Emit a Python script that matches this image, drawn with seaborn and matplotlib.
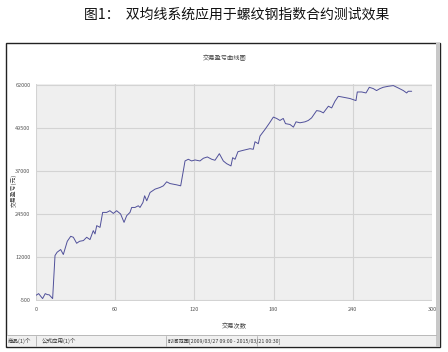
import matplotlib
matplotlib.use("Agg")
import matplotlib.pyplot as plt
import seaborn as sns
import pandas as pd
from matplotlib.patches import Rectangle
from matplotlib.lines import Line2D

sns.set_theme(style="whitegrid")
plt.rcParams['font.family'] = ['Noto Sans CJK SC', 'DejaVu Sans']

fig_title = "图1：  双均线系统应用于螺纹钢指数合约测试效果"
chart_title = "交易盈亏曲线图"
x_label = "交易次数"
y_label = "交易盈亏(元)"
status_texts = ["商品(1)个", "公式应用(1)个", "时间范围[2009/03/27 09:00 - 2015/03/21 00:30]"]

x_ticks = [0, 60, 120, 180, 240, 300]
y_ticks = [-500, 12000, 24500, 37000, 49500, 62000]

trade_no = [0, 2, 5, 7, 8.6, 10, 12.6, 14.4, 16, 18.7, 20.7, 23.7, 26.3, 28.3, 30.8, 33,
            35.9, 38.4, 40.9, 43.4, 44.7, 46, 48.5, 50.5, 53.5, 56, 58.6, 61.1, 64.1, 66.7,
            68.7, 71.2, 72.5, 75, 77.5, 78.8, 81, 82.3, 83.9, 86.4, 90.2, 93.9, 96.5, 99,
            101.5, 106.6, 109.6, 111.6, 112.9, 115.4, 117.9, 120.5, 124.2, 126.8, 129.8,
            133.1, 135.6, 138.9, 141.9, 144.4, 147.7, 149, 150.8, 153, 157, 162.1, 164.6,
            165.9, 168.4, 169.7, 173.5, 177, 179.8, 182.3, 184.8, 187.3, 189, 192.4, 195,
            197, 200, 203.8, 206.3, 208.8, 212.6, 215.2, 217.7, 221.5, 224, 226.5, 229,
            232.8, 237.9, 242.4, 243.4, 246.7, 250, 252.5, 255.5, 258, 260.6, 263.1, 266.9,
            270.7, 274.5, 278.3, 280.8, 282, 284.6]
pnl = [950, 1440, 0, 1440, 1150, 1100, 0, 12500, 13460, 14240, 12800, 16640, 18080, 17800,
       16060, 16640, 16840, 17800, 17130, 19730, 18770, 21175, 20680, 25020, 25020, 25510,
       24730, 25510, 24560, 22130, 24070, 25020, 26460, 26460, 26950, 26460, 27900, 29850,
       28400, 30800, 31780, 32250, 32740, 33900, 33400, 33020, 32740, 37070, 39960, 40450,
       39960, 40250, 39960, 40740, 41120, 40450, 40160, 42070, 39960, 39180, 38520, 40910,
       40450, 42650, 43050, 43520, 43350, 45540, 44960, 47190, 49120, 51040, 52690, 52300,
       51720, 52300, 50800, 50550, 49780, 51320, 51040, 51320, 51720, 52470, 54580, 54410,
       53920, 55850, 55360, 57300, 58730, 58460, 58080, 57480, 59980, 59990, 59700, 61340,
       60970, 60390, 60970, 61350, 61640, 61840, 61140, 60390, 59700, 60190, 60190]

df = pd.DataFrame({"trade": trade_no, "pnl": pnl})

W, H = 448, 352
fig = plt.figure(figsize=(W / 100, H / 100), dpi=100)
fig.patch.set_facecolor("white")

def fx(px):
    return px / W

def fy(py):
    return 1 - py / H

# outer window box
fig.patches.append(Rectangle((fx(6), fy(347)), fx(434), 304 / H, transform=fig.transFigure,
                             facecolor="white", edgecolor="#222222", linewidth=1.0, zorder=-2))
# right 3D border
fig.patches.append(Rectangle((fx(436), fy(347)), fx(4), 304 / H, transform=fig.transFigure,
                             facecolor="#c8c8c8", edgecolor="none", zorder=-1))
# status bar
fig.patches.append(Rectangle((fx(7), fy(346)), fx(429), 11 / H, transform=fig.transFigure,
                             facecolor="#f0f0f0", edgecolor="none", zorder=-1))
fig.lines.append(Line2D([fx(7), fx(436)], [fy(335), fy(335)], transform=fig.transFigure,
                        color="#b0b0b0", linewidth=0.6))
fig.lines.append(Line2D([fx(36), fx(36)], [fy(346), fy(336)], transform=fig.transFigure,
                        color="#b0b0b0", linewidth=0.6))
fig.lines.append(Line2D([fx(166), fx(166)], [fy(346), fy(336)], transform=fig.transFigure,
                        color="#b0b0b0", linewidth=0.6))
fig.lines.append(Line2D([fx(257), fx(257)], [fy(346), fy(336)], transform=fig.transFigure,
                        color="#b0b0b0", linewidth=0.6))

fig.text(fx(237), fy(15), fig_title, ha="center", va="center", fontsize=10, color="#111111")
fig.text(fx(225), fy(58), chart_title, ha="center", va="center", fontsize=4.5, color="#444444")
fig.text(fx(234), fy(326), x_label, ha="center", va="center", fontsize=4.5, color="#444444")
fig.text(fx(14), fy(190), y_label, ha="center", va="center", fontsize=4.2, color="#444444", rotation=90)
fig.text(fx(8), fy(341), status_texts[0], ha="left", va="center", fontsize=4, color="#333333")
fig.text(fx(42), fy(341), status_texts[1], ha="left", va="center", fontsize=4, color="#333333")
fig.text(fx(168), fy(341), status_texts[2], ha="left", va="center", fontsize=3.8, color="#333333")

ax = fig.add_axes([fx(36), fy(301), fx(396), 217 / H])
ax.set_zorder(5)
ax.set_facecolor("#efefef")
sns.lineplot(data=df, x="trade", y="pnl", ax=ax, color="#50509a", linewidth=0.7)
ax.set_xlim(0, 300)
ax.set_ylim(-700, 62300)
ax.set_xticks(x_ticks)
ax.set_yticks(y_ticks)
ax.set_xticklabels([str(v) for v in x_ticks])
ax.set_yticklabels([str(v) for v in y_ticks])
ax.set_xlabel("")
ax.set_ylabel("")
ax.grid(True, color="#d3d3d3", linewidth=0.8)
ax.tick_params(axis="both", labelsize=4, colors="#555555", length=2, width=0.5, pad=2)
ax.tick_params(axis="both", color="#bbbbbb")
for s in ax.spines.values():
    s.set_visible(False)

fig.savefig("out.png", dpi=100)
